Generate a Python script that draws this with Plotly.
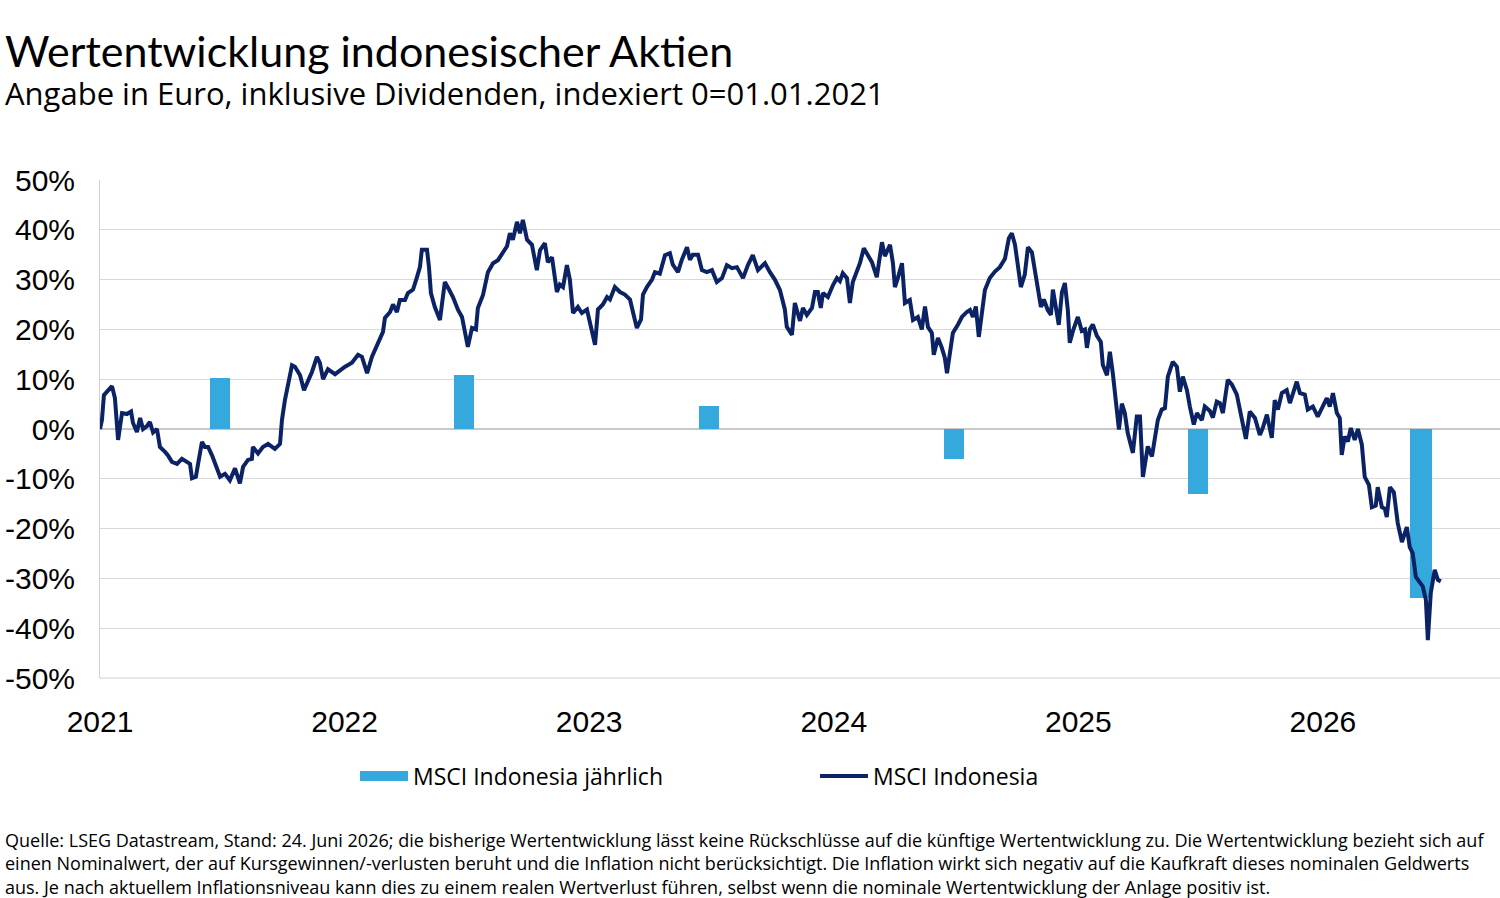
import plotly.graph_objects as go

# ---------------- data ----------------
title = "Wertentwicklung indonesischer Aktien"
subtitle = "Angabe in Euro, inklusive Dividenden, indexiert 0=01.01.2021"
footer = ("Quelle: LSEG Datastream, Stand: 24. Juni 2026; die bisherige Wertentwicklung lässt keine Rückschlüsse auf die künftige Wertentwicklung zu. Die Wertentwicklung bezieht sich auf<br>"
          "einen Nominalwert, der auf Kursgewinnen/-verlusten beruht und die Inflation nicht berücksichtigt. Die Inflation wirkt sich negativ auf die Kaufkraft dieses nominalen Geldwerts<br>"
          "aus. Je nach aktuellem Inflationsniveau kann dies zu einem realen Wertverlust führen, selbst wenn die nominale Wertentwicklung der Anlage positiv ist.")

bar_name = "MSCI Indonesia jährlich"
line_name = "MSCI Indonesia"

# yearly performance bars (time in years, value in %)
bar_years = [2021.49, 2022.49, 2023.49, 2024.49, 2025.49, 2026.40]
bar_values = [10.3, 10.8, 4.6, -6.0, -13.0, -33.9]

# index line: time in years since 01.01.2021, value in %
line_t = [
    0.000, 0.008, 0.016, 0.033, 0.049, 0.061, 0.074, 0.090, 0.110, 0.127, 0.135, 0.151, 0.164, 0.176, 0.192,
    0.204, 0.217, 0.233, 0.245, 0.266, 0.278, 0.294, 0.315, 0.335, 0.356, 0.368, 0.376, 0.392, 0.401, 0.417,
    0.429, 0.442, 0.458, 0.478, 0.491, 0.511, 0.531, 0.552, 0.572, 0.585, 0.605, 0.621, 0.625, 0.646, 0.666,
    0.687, 0.715, 0.736, 0.744, 0.756, 0.769, 0.785, 0.797, 0.818, 0.834, 0.850, 0.867, 0.887, 0.899, 0.912,
    0.932, 0.961, 0.981, 1.002, 1.030, 1.055, 1.071, 1.092, 1.112, 1.132, 1.145, 1.157, 1.165, 1.186, 1.198,
    1.214, 1.226, 1.247, 1.259, 1.280, 1.296, 1.308, 1.316, 1.337, 1.345, 1.353, 1.369, 1.390, 1.398, 1.410,
    1.427, 1.443, 1.464, 1.480, 1.488, 1.504, 1.521, 1.537, 1.545, 1.566, 1.586, 1.607, 1.627, 1.647, 1.664,
    1.676, 1.688, 1.705, 1.717, 1.729, 1.746, 1.766, 1.786, 1.799, 1.819, 1.831, 1.848,
    1.868, 1.880, 1.893, 1.909, 1.921, 1.934, 1.954, 1.970, 1.991, 2.003, 2.015, 2.024, 2.036, 2.056, 2.073,
    2.085, 2.105, 2.126, 2.146, 2.167, 2.179, 2.195, 2.212, 2.220, 2.236, 2.257, 2.269, 2.289, 2.310, 2.330,
    2.342, 2.363, 2.379, 2.400, 2.412, 2.424, 2.445, 2.461, 2.481, 2.502, 2.522, 2.543, 2.563, 2.584, 2.604,
    2.629, 2.649, 2.669, 2.690, 2.719, 2.739, 2.759, 2.780,
    2.800, 2.808, 2.829, 2.841, 2.862, 2.874, 2.890, 2.911, 2.923, 2.935, 2.947, 2.956, 2.976, 2.997, 3.013,
    3.025, 3.037, 3.054, 3.066, 3.078, 3.095, 3.107, 3.123, 3.140, 3.156, 3.176, 3.189, 3.197, 3.209, 3.230,
    3.242, 3.250, 3.262, 3.279, 3.291, 3.311, 3.324, 3.344, 3.360, 3.373, 3.385, 3.401, 3.409, 3.426, 3.442,
    3.454, 3.463, 3.475, 3.487, 3.508, 3.524, 3.544, 3.557, 3.569, 3.581, 3.593, 3.606, 3.618, 3.638, 3.659,
    3.679, 3.700, 3.716, 3.728,
    3.741, 3.753, 3.765, 3.781, 3.794, 3.810, 3.822, 3.835, 3.847, 3.859, 3.875, 3.888, 3.896, 3.912, 3.920,
    3.933, 3.945, 3.957, 3.965, 3.978, 3.998, 4.014, 4.027, 4.035, 4.047, 4.059, 4.076, 4.092, 4.100, 4.117,
    4.129, 4.141, 4.158, 4.166, 4.178, 4.190, 4.202, 4.219, 4.223, 4.239, 4.252, 4.264, 4.276, 4.284, 4.301,
    4.313, 4.325, 4.341, 4.354, 4.366, 4.374, 4.386, 4.403, 4.415, 4.427, 4.444, 4.456, 4.472, 4.485, 4.505,
    4.517, 4.538, 4.550, 4.566, 4.579, 4.591, 4.611, 4.628, 4.648, 4.668, 4.685,
    4.701, 4.722, 4.742, 4.754, 4.771, 4.791, 4.803, 4.816, 4.832, 4.852, 4.865, 4.877, 4.893, 4.906, 4.926,
    4.938, 4.959, 4.979, 5.000, 5.016, 5.028, 5.041, 5.057, 5.069, 5.077, 5.089, 5.102, 5.114, 5.130, 5.143,
    5.159, 5.171, 5.188, 5.200, 5.216, 5.224, 5.241, 5.253, 5.261, 5.274, 5.290, 5.306, 5.323, 5.343, 5.355,
    5.367, 5.380, 5.396, 5.408, 5.421, 5.429, 5.441, 5.457, 5.470, 5.482,
]
line_values = [
    0.0, 1.8, 6.8, 7.8, 8.6, 6.2, -2.2, 3.2, 3.0, 3.5, 1.2, -0.6, 2.2, 0.0, 0.6,
    1.4, -0.7, 0.0, -3.6, -4.6, -5.3, -6.6, -7.0, -6.0, -6.6, -7.0, -9.9, -9.6, -7.0, -2.6,
    -3.6, -3.6, -5.3, -7.9, -9.6, -9.0, -10.3, -7.9, -10.9, -7.6, -6.2, -6.0, -3.6, -4.9, -3.6,
    -3.0, -4.0, -3.0, 1.8, 5.8, 9.2, 12.8, 12.5, 10.8, 7.8, 9.5, 11.5, 14.5, 13.3, 10.0,
    12.0, 11.0, 11.8, 12.5, 13.3, 14.9, 14.5, 11.2, 14.5, 16.9, 18.5, 19.5, 22.3, 23.5, 25.0,
    23.5, 25.9, 25.9, 27.3, 28.0, 30.5, 32.5, 36.0, 36.0, 32.5, 27.3, 24.5, 21.9, 25.0, 29.5,
    28.0, 26.5, 23.9, 22.5, 20.5, 16.5, 20.3, 20.0, 24.3, 26.9, 31.5, 33.3, 33.9, 35.3, 36.7,
    39.3, 38.0, 41.6, 39.3, 42.0, 38.0, 37.0, 31.9, 35.9, 37.3, 33.5, 34.5,
    27.5, 29.0, 28.5, 32.9, 30.0, 23.3, 24.5, 23.3, 24.0, 21.5, 19.3, 16.9, 24.0, 25.0, 26.5,
    26.0, 28.5, 27.5, 27.0, 26.0, 23.5, 20.3, 22.0, 27.0, 28.5, 30.0, 31.5, 31.2, 34.9, 35.3,
    33.0, 31.5, 34.0, 36.5, 34.0, 35.0, 35.0, 31.9, 31.5, 31.9, 29.5, 30.3, 32.9, 32.3, 32.5,
    30.3, 32.9, 34.9, 31.9, 33.3, 31.5, 30.0, 27.9,
    24.0, 20.5, 18.9, 25.3, 21.7, 24.3, 22.9, 24.3, 27.5, 27.5, 24.3, 27.3, 26.5, 28.9, 30.3,
    29.7, 31.3, 30.3, 25.3, 29.5, 31.9, 33.3, 36.3, 35.0, 33.5, 30.5, 35.0, 37.5, 34.7, 37.0,
    33.3, 28.5, 30.3, 33.3, 25.3, 25.9, 21.9, 22.5, 20.0, 24.6, 20.5, 19.3, 14.9, 18.3, 16.3,
    14.3, 11.2, 15.3, 19.3, 21.0, 22.5, 23.5, 23.9, 22.5, 24.6, 18.5, 23.9, 27.9, 30.3, 31.6,
    32.5, 34.2, 38.3, 39.3,
    37.0, 32.5, 28.5, 31.0, 36.5, 35.5, 32.0, 28.5, 24.5, 26.0, 23.9, 22.9, 28.0, 23.3, 20.9,
    27.5, 29.3, 23.9, 17.3, 19.7, 22.5, 19.7, 20.0, 16.3, 20.0, 21.0, 18.7, 17.5, 12.9, 10.8,
    15.5, 11.2, 2.4, -0.1, 5.1, 3.2, -0.8, -4.2, -4.8, 2.5, 2.5, -9.6, -6.2, -3.5, -5.5,
    -1.5, 1.8, 3.9, 4.2, 10.5, 11.5, 13.5, 12.5, 7.5, 10.5, 7.8, 4.5, 0.9, 3.2, 1.8,
    4.5, 3.6, 2.3, 5.5, 5.2, 3.2, 9.9, 8.9, 6.9, 1.8, -2.0,
    3.5, 2.2, -1.2, 0.2, 2.9, -1.8, 5.8, 3.9, 7.2, 7.8, 5.2, 7.2, 9.5, 7.2, 6.9,
    3.9, 4.5, 2.5, 4.5, 6.2, 4.5, 7.2, 3.2, 2.2, -5.2, -1.5, -2.5, 0.2, -2.2, 0.0,
    -3.1, -9.6, -11.2, -15.7, -15.4, -11.7, -15.7, -16.0, -17.7, -11.7, -12.7, -18.9, -22.7, -19.7, -23.7,
    -24.9, -29.7, -30.9, -31.6, -34.3, -42.4, -32.9, -28.3, -30.3, -30.6,
]

x_tick_vals = [2021, 2022, 2023, 2024, 2025, 2026]
x_tick_text = ["2021", "2022", "2023", "2024", "2025", "2026"]
y_tick_vals = [-50, -40, -30, -20, -10, 0, 10, 20, 30, 40, 50]
y_tick_text = ["-50%", "-40%", "-30%", "-20%", "-10%", "0%", "10%", "20%", "30%", "40%", "50%"]

# ---------------- figure ----------------
BAR_COLOR = "#35A8DD"
LINE_COLOR = "#0B2364"
TITLE_FONT = "Lato"
TEXT_FONT = "Open Sans"
TICK_FONT = "Liberation Sans"

line_x = [2021 + t for t in line_t]

fig = go.Figure()
fig.add_trace(go.Bar(
    x=bar_years, y=bar_values, width=[0.082, 0.082, 0.082, 0.082, 0.082, 0.09],
    marker=dict(color=BAR_COLOR, line=dict(width=0)), name=bar_name, showlegend=False,
))
# legend entry for bars drawn as a thick band (as in the reference legend)
fig.add_trace(go.Scatter(
    x=[None], y=[None], mode="lines", name=bar_name,
    line=dict(color=BAR_COLOR, width=12), showlegend=True,
))
fig.add_trace(go.Scatter(
    x=line_x, y=line_values, mode="lines", name=line_name,
    line=dict(color=LINE_COLOR, width=4), showlegend=True,
))

W, H = 1500, 898
L, R, T, B = 100, 0, 180, 220
PW, PH = W - L - R, H - T - B


def px_x(x):
    return (x - L) / PW


def px_y(y):
    return (H - B - y) / PH


fig.update_layout(
    width=W, height=H,
    margin=dict(l=L, r=R, t=T, b=B, pad=0),
    paper_bgcolor="white", plot_bgcolor="white",
    font=dict(family=TEXT_FONT, color="#000000"),
    bargap=0,
    showlegend=True,
    legend=dict(
        orientation="h", x=px_x(355), xanchor="left", y=px_y(776), yanchor="middle",
        font=dict(family=TEXT_FONT, size=23, color="#000000"),
        entrywidth=397, entrywidthmode="pixels", bgcolor="rgba(0,0,0,0)",
        itemwidth=48, tracegroupgap=0,
    ),
    xaxis=dict(
        range=[2021, 2026.724], tickmode="array", tickvals=x_tick_vals, ticktext=x_tick_text,
        showgrid=False, zeroline=False, showline=False, ticks="",
        tickfont=dict(family=TICK_FONT, size=30, color="#000000"), ticklabelstandoff=23,
        fixedrange=True,
    ),
    yaxis=dict(
        range=[-50, 50], tickmode="array", tickvals=y_tick_vals, ticktext=y_tick_text,
        showgrid=True, gridcolor="#D9D9D9", gridwidth=1,
        zeroline=True, zerolinecolor="#C8C8C8", zerolinewidth=2,
        showline=True, linecolor="#D0D0D0", linewidth=1, ticks="",
        tickfont=dict(family=TICK_FONT, size=30, color="#000000"), ticklabelstandoff=18,
        fixedrange=True,
    ),
    annotations=[
        dict(text=title, xref="paper", yref="paper", x=px_x(3), y=px_y(50), xanchor="left", yanchor="middle",
             showarrow=False, font=dict(family=TITLE_FONT, size=43, color="#000000")),
        dict(text=subtitle, xref="paper", yref="paper", x=px_x(3), y=px_y(93), xanchor="left", yanchor="middle",
             showarrow=False, font=dict(family=TEXT_FONT, size=31, color="#000000")),
        dict(text=footer, xref="paper", yref="paper", x=px_x(3), y=px_y(826), xanchor="left", yanchor="top",
             align="left", showarrow=False, font=dict(family=TEXT_FONT, size=18, color="#000000")),
    ],
)
# bottom axis line
fig.add_shape(type="line", xref="paper", yref="paper", x0=0, x1=1, y0=0, y1=0,
              line=dict(color="#D0D0D0", width=1), layer="below")

fig.write_html("out.html")
